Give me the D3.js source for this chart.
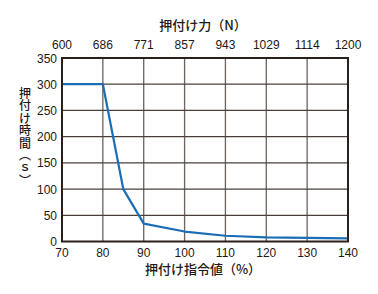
<!DOCTYPE html>
<html>
<head>
<meta charset="utf-8">
<style>
  body { margin: 0; background: #fff; }
  text { font-family: "Liberation Sans", Arial, sans-serif; fill: #231815; }
  .jp { font-family: "Noto Sans CJK JP", sans-serif; }
  .vert { writing-mode: vertical-rl; letter-spacing: 0.5px; }
</style>
</head>
<body>
<svg width="378" height="294"></svg>
<script src="https://d3js.org/d3.v7.min.js"></script>
<script>
// push command value (%) vs push time (s)
var commandPct = [70, 80, 85, 90, 100, 110, 120, 130, 140];
var pushTime   = [300, 300, 100, 34, 19, 11, 8, 7, 6];
var xTicks = [70, 80, 90, 100, 110, 120, 130, 140];
var yTicks = [0, 50, 100, 150, 200, 250, 300, 350];
var forceLabels = ["600", "686", "771", "857", "943", "1029", "1114", "1200"];

var svg = d3.select("svg");
var plotL = 62, plotR = 348, plotT = 58, plotB = 241.5;

var x = d3.scaleLinear().domain([70, 140]).range([plotL, plotR]);
var y = d3.scaleLinear().domain([0, 350]).range([plotB, plotT]);

// grid
svg.append("g").selectAll("line").data(xTicks.slice(1, -1)).enter().append("line")
  .attr("x1", d => x(d)).attr("x2", d => x(d))
  .attr("y1", plotT).attr("y2", plotB)
  .attr("stroke", "#6b625d").attr("stroke-width", 1.3);
svg.append("g").selectAll("line").data(yTicks.slice(1, -1)).enter().append("line")
  .attr("x1", plotL).attr("x2", plotR)
  .attr("y1", d => y(d)).attr("y2", d => y(d))
  .attr("stroke", "#4a403b").attr("stroke-width", 1.3);

// data line
var line = d3.line().x(d => x(d[0])).y(d => y(d[1]));
svg.append("path")
  .datum(commandPct.map((c, i) => [c, pushTime[i]]))
  .attr("d", line)
  .attr("fill", "none")
  .attr("stroke", "#1b6db5")
  .attr("stroke-width", 2.2)
  .attr("stroke-linejoin", "round");

// frame
svg.append("rect")
  .attr("x", plotL).attr("y", plotT)
  .attr("width", plotR - plotL).attr("height", plotB - plotT)
  .attr("fill", "none").attr("stroke", "#2a1f1a").attr("stroke-width", 2);

// bottom axis labels
svg.append("g").selectAll("text").data(xTicks).enter().append("text")
  .attr("x", d => x(d)).attr("y", 257)
  .attr("text-anchor", "middle").attr("font-size", 12)
  .text(d => d);

// top axis labels (force)
svg.append("g").selectAll("text").data(xTicks).enter().append("text")
  .attr("x", d => x(d)).attr("y", 49)
  .attr("text-anchor", "middle").attr("font-size", 12)
  .text((d, i) => forceLabels[i]);

// left axis labels
svg.append("g").selectAll("text").data(yTicks).enter().append("text")
  .attr("x", 57).attr("y", d => y(d) + 4.5)
  .attr("text-anchor", "end").attr("font-size", 12)
  .text(d => d);

// titles
svg.append("text").attr("class", "jp")
  .attr("x", 203).attr("y", 30).attr("text-anchor", "middle")
  .attr("font-size", 13).attr("font-weight", 500).text("押付け力（N）");
svg.append("text").attr("class", "jp")
  .attr("x", 203).attr("y", 274).attr("text-anchor", "middle")
  .attr("font-size", 13).attr("font-weight", 500).text("押付け指令値（%）");

svg.append("text").attr("class", "jp vert")
  .attr("x", 25).attr("y", 87)
  .attr("font-size", 12).attr("font-weight", 500)
  .text("押付け時間（ｓ）");
</script>
</body>
</html>
